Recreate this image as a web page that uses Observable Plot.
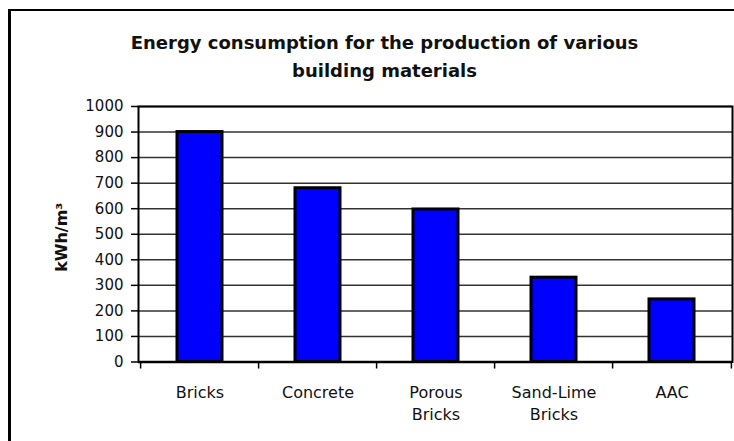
<!DOCTYPE html>
<html><head><meta charset="utf-8">
<script src="https://cdn.jsdelivr.net/npm/d3@7"></script>
<script src="https://cdn.jsdelivr.net/npm/@observablehq/plot@0.6"></script>
<style>
html,body{margin:0;padding:0;background:#fff;}
#wrap{position:relative;width:734px;height:441px;overflow:hidden;}
#outer{position:absolute;left:8px;top:9px;width:800px;height:500px;border-left:3px solid #000;border-top:2.5px solid #000;box-sizing:border-box;pointer-events:none;}
</style></head><body>
<div id="wrap"><div id="chart"></div><div id="outer"></div></div>
<script>
const title = "Energy consumption for the production of various\nbuilding materials";
const categories = ["Bricks", "Concrete", "Porous Bricks", "Sand-Lime Bricks", "AAC"];
const categoryLabels = ["Bricks", "Concrete", "Porous\nBricks", "Sand-Lime\nBricks", "AAC"];
const values = [900, 680, 597, 330, 245];
const yTicks = [0, 100, 200, 300, 400, 500, 600, 700, 800, 900, 1000];
const yLabel = "kWh/m³";

const data = categories.map((c, i) => ({material: c, value: values[i]}));

const W = 734, H = 441, ML = 138, MR = 2, MT = 106, MB = 79.5;
const PAD_IN = 0.62, PAD_OUT = 0.31;
// band step: range / (n - paddingInner + 2 * paddingOuter)
const step = (W - ML - MR) / (categories.length - PAD_IN + 2 * PAD_OUT);

const chart = Plot.plot({
  width: W,
  height: H,
  marginLeft: ML,
  marginRight: MR,
  marginTop: MT,
  marginBottom: MB,
  style: {fontFamily: "DejaVu Sans", fontSize: "15px", color: "#111", background: "#fff", overflow: "visible"},
  x: {type: "band", domain: categories, paddingInner: PAD_IN, paddingOuter: PAD_OUT, align: 0.5},
  y: {domain: [0, 1000]},
  marks: [
    Plot.ruleY(yTicks, {stroke: "#333", strokeWidth: 1.5}),
    Plot.barY(data, {x: "material", y: "value", fill: "#0000ff", stroke: "#000", strokeWidth: 3}),
    Plot.frame({stroke: "#000", strokeWidth: 2}),
    Plot.ruleY([0], {stroke: "#000", strokeWidth: 2.5}),
    // category separator ticks below the x axis (left boundary of each band, plus the right end)
    Plot.ruleX(categories, {x: d => d, y1: 0, y2: 0, insetBottom: -7, dx: -step / 2, stroke: "#000", strokeWidth: 1.5}),
    Plot.ruleX(categories.slice(-1), {x: d => d, y1: 0, y2: 0, insetBottom: -7, dx: step / 2, stroke: "#000", strokeWidth: 1.5}),
    Plot.axisY({ticks: yTicks, tickSize: 7, tickPadding: 8, tickFormat: d => String(d), fontSize: 15, label: null, stroke: "#000", strokeWidth: 1.5, color: "#111"}),
    Plot.axisX({tickSize: 0, tickPadding: 21, tickFormat: d => categoryLabels[categories.indexOf(d)], fontSize: 16, lineHeight: 1.34, label: null, color: "#111"}),
    Plot.text([yLabel], {frameAnchor: "left", rotate: -90, dx: -72, dy: 3, fontWeight: "bold", fontSize: 16, lineAnchor: "bottom", textAnchor: "middle", fill: "#111"}),
    Plot.text([title], {frameAnchor: "top", dx: -51, dy: -77, fontSize: 18, fontWeight: "bold", lineAnchor: "top", lineHeight: 1.555, fill: "#111"})
  ]
});
document.getElementById("chart").appendChild(chart);
</script>
</body></html>
